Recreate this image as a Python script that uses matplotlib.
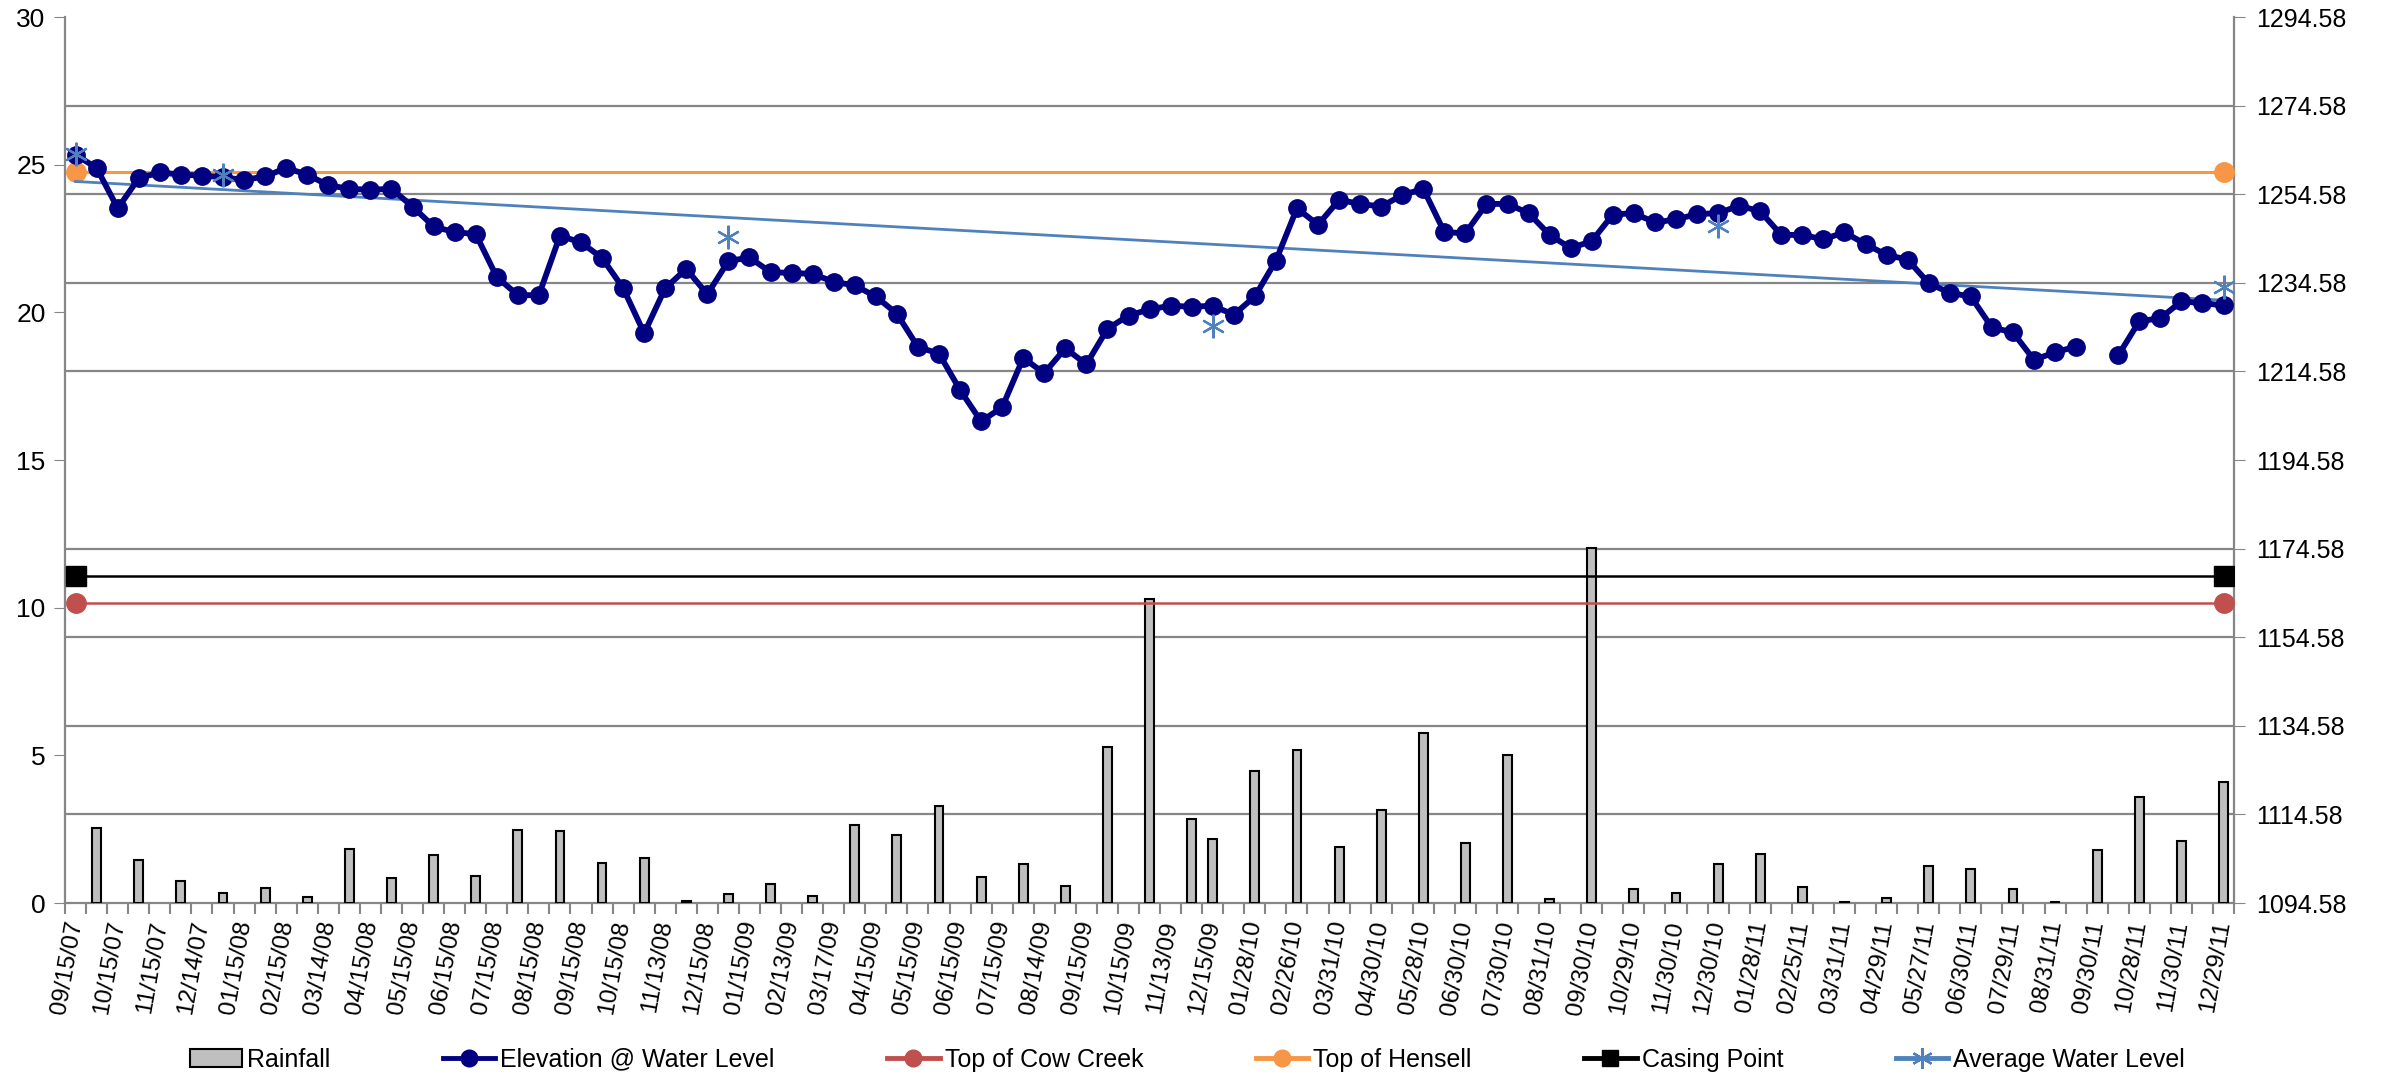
import numpy as np
import matplotlib.pyplot as plt
from matplotlib.lines import Line2D
from matplotlib.patches import Patch

plt.rcParams['font.family'] = ['Liberation Sans', 'DejaVu Sans']
plt.rcParams['font.size'] = 18

# shown tick labels (every other sample)
date_labels = ["09/15/07", "10/15/07", "11/15/07", "12/14/07", "01/15/08", "02/15/08",
               "03/14/08", "04/15/08", "05/15/08", "06/15/08", "07/15/08", "08/15/08",
               "09/15/08", "10/15/08", "11/13/08", "12/15/08", "01/15/09", "02/13/09",
               "03/17/09", "04/15/09", "05/15/09", "06/15/09", "07/15/09", "08/14/09",
               "09/15/09", "10/15/09", "11/13/09", "12/15/09", "01/28/10", "02/26/10",
               "03/31/10", "04/30/10", "05/28/10", "06/30/10", "07/30/10", "08/31/10",
               "09/30/10", "10/29/10", "11/30/10", "12/30/10", "01/28/11", "02/25/11",
               "03/31/11", "04/29/11", "05/27/11", "06/30/11", "07/29/11", "08/31/11",
               "09/30/11", "10/28/11", "11/30/11", "12/29/11"]

# elevation at water level (ft), one per sample, nan = missing
elevation = [1263.5, 1260.5, 1251.4, 1258.2, 1259.5, 1259.0, 1258.8, 1258.4, 1257.8, 1258.6,
             1260.5, 1259.0, 1256.6, 1255.8, 1255.6, 1255.8, 1251.8, 1247.3, 1246.0, 1245.6,
             1235.9, 1231.8, 1231.8, 1245.2, 1243.7, 1240.2, 1233.4, 1223.2, 1233.4, 1237.7,
             1232.0, 1239.5, 1240.3, 1237.0, 1236.8, 1236.6, 1234.8, 1234.0, 1231.5, 1227.6,
             1220.1, 1218.6, 1210.4, 1203.3, 1206.5, 1217.6, 1214.2, 1219.8, 1216.2, 1224.2,
             1227.2, 1228.6, 1229.4, 1229.2, 1229.4, 1227.4, 1231.5, 1239.6, 1251.4, 1247.7,
             1253.3, 1252.4, 1251.8, 1254.4, 1255.8, 1246.0, 1245.8, 1252.4, 1252.4, 1250.3,
             1245.4, 1242.4, 1244.0, 1250.0, 1250.3, 1248.2, 1248.9, 1250.1, 1250.3, 1252.0,
             1250.7, 1245.4, 1245.4, 1244.4, 1246.0, 1243.3, 1240.9, 1239.8, 1234.5, 1232.3,
             1231.5, 1224.5, 1223.4, 1217.2, 1218.9, 1220.2, np.nan, 1218.2, 1225.9, 1226.6,
             1230.4, 1230.0, 1229.5]

# rainfall (in) at sample index
rain_idx = [1, 3, 5, 7, 9, 11, 13, 15, 17, 19, 21, 23, 25, 27, 29, 31, 33,
            35, 37, 39, 41, 43, 45, 47, 49, 51, 53, 54, 56, 58, 60, 62, 64, 66, 68, 70,
            72, 74, 76, 78, 80, 82, 84, 86, 88, 90, 92, 94, 96, 98, 100, 102]
rain_vals = [2.53, 1.47, 0.75, 0.34, 0.51, 0.22, 1.83, 0.86, 1.61, 0.92, 2.47, 2.44, 1.34, 1.53, 0.06, 0.32, 0.66,
             0.25, 2.64, 2.29, 3.29, 0.87, 1.32, 0.57, 5.27, 10.29, 2.83, 2.16, 4.48, 5.17, 1.90, 3.14, 5.77, 2.03, 5.01, 0.15,
             12.02, 0.49, 0.34, 1.31, 1.67, 0.55, 0.02, 0.17, 1.24, 1.16, 0.47, 0.02, 1.79, 3.58, 2.10, 4.10]

# average water level points
avg_idx = [0, 7, 31, 54, 78, 102]
avg_vals = [1263.7, 1258.9, 1244.9, 1224.9, 1247.3, 1233.6]

# reference elevations (ft)
top_cow_creek = 1162.3
top_hensell = 1259.5
casing_point = 1168.3

n = len(elevation)
x = np.arange(n)
ends = np.array([x[0], x[-1]])

fig = plt.figure(figsize=(23.84, 10.78), dpi=100)
ax = fig.add_axes([0.0273, 0.1623, 0.9098, 0.8219])
ax2 = ax.twinx()

grey = '#868686'

ax.bar(rain_idx, rain_vals, width=0.42, color='#BFBFBF', edgecolor='black', linewidth=1.5, zorder=3)
ax.set_ylim(0, 30)
ax.set_xlim(-0.5, n - 0.5)
ax.set_yticks(np.arange(0, 31, 5))
ax.set_yticks(np.arange(0, 31, 3), minor=True)
ax.grid(which='minor', axis='y', color=grey, lw=1.6)
ax.set_axisbelow(True)
ax.tick_params(axis='y', which='major', direction='out', length=8, color=grey, pad=6, labelsize=19)
ax.tick_params(axis='y', which='minor', length=0)

ax.set_xticks(x[::2])
ax.set_xticklabels(date_labels, rotation=80, ha='right', va='center', rotation_mode='anchor', fontsize=17.5)
ax.set_xticks(np.arange(-0.5, n, 1), minor=True)
ax.tick_params(axis='x', which='major', length=0, pad=13)
ax.tick_params(axis='x', which='minor', direction='out', length=8, color=grey, width=1.5)

for s in ['top', 'right']:
    ax.spines[s].set_visible(False)
for s in ['left', 'bottom']:
    ax.spines[s].set_color(grey)
    ax.spines[s].set_linewidth(1.6)

ax2.plot(ends, [top_hensell] * 2, color='#F79646', lw=2.2, marker='o', ms=14, zorder=3)
ax2.plot(ends, [top_cow_creek] * 2, color='#C0504D', lw=1.8, marker='o', ms=14, zorder=3)
ax2.plot(ends, [casing_point] * 2, color='black', lw=1.8, marker='s', ms=14, zorder=3)

fit = np.polyfit(avg_idx, avg_vals, 1)
ax2.plot(ends, np.polyval(fit, ends), color='#4F81BD', lw=2, zorder=4)
ax2.plot(avg_idx, avg_vals, ls='none', marker=(6, 2, 0), ms=17, mec='#4F81BD', mew=1.6, zorder=6)

ax2.plot(x, elevation, color='#000080', lw=4.2, marker='o', ms=12.5, zorder=5)

ax2.set_ylim(1094.58, 1294.58)
ax2.set_yticks(np.arange(1094.58, 1295, 20))
ax2.set_yticklabels([f"{v:.2f}" for v in np.arange(1094.58, 1295, 20)])
ax2.tick_params(axis='y', direction='out', length=8, color=grey, pad=8, labelsize=18)
for s in ['top', 'left', 'bottom']:
    ax2.spines[s].set_visible(False)
ax2.spines['right'].set_color(grey)
ax2.spines['right'].set_linewidth(1.6)

handles = [
    Patch(facecolor='#BFBFBF', edgecolor='black', linewidth=1.5),
    Line2D([], [], color='#000080', lw=3.5, marker='o', ms=12),
    Line2D([], [], color='#C0504D', lw=3.5, marker='o', ms=12),
    Line2D([], [], color='#F79646', lw=3.5, marker='o', ms=12),
    Line2D([], [], color='black', lw=3.5, marker='s', ms=12),
    Line2D([], [], color='#4F81BD', lw=3.5, marker=(6, 2, 0), ms=15, mew=1.6),
]
labels = ['Rainfall', 'Elevation @ Water Level', 'Top of Cow Creek', 'Top of Hensell',
          'Casing Point', 'Average Water Level']
fig.legend(handles, labels, loc='center', bbox_to_anchor=(0.498, 0.017), ncol=6, frameon=False,
           fontsize=18, handlelength=2.1, handletextpad=0.2, columnspacing=4.5)

fig.savefig('out.png', dpi=100)
